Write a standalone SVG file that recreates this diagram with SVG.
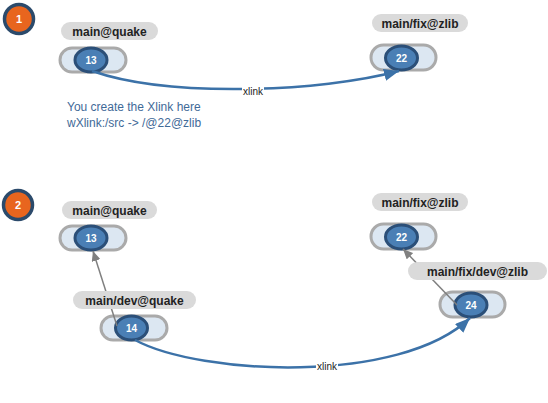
<svg xmlns="http://www.w3.org/2000/svg" width="548" height="403" viewBox="0 0 548 403">
<style>
.badge{fill:#e8651e;stroke:#2b4a6b;stroke-width:3.5}
.btext{font-family:"Liberation Sans",Arial,sans-serif;font-size:11px;font-weight:bold;fill:#fff;text-anchor:middle}
.lbl{fill:#dadada}
.ltext{font-family:"Liberation Sans",Arial,sans-serif;font-size:12px;font-weight:bold;fill:#222;text-anchor:middle}
.pill{fill:#dce7f2;stroke:#aaaaaa;stroke-width:3}
.rev{fill:#4a7fb5;stroke:#2b4f78;stroke-width:3}
.ntext{font-family:"Liberation Sans",Arial,sans-serif;font-size:10px;font-weight:bold;fill:#fff;text-anchor:middle}
.xl{fill:none;stroke:#3c72a8;stroke-width:2.5}
.par{fill:none;stroke:#808080;stroke-width:1.5}
.xt{font-family:"Liberation Sans",Arial,sans-serif;font-size:10px;fill:#222;text-anchor:middle}
.note{font-family:"Liberation Sans",Arial,sans-serif;font-size:12px;fill:#3f6a98}
</style>
<defs>
<marker id="ab" markerUnits="userSpaceOnUse" markerWidth="16" markerHeight="12" refX="15" refY="6" orient="auto">
<path d="M0,0 L15,6 L0,12 Z" fill="#3c72a8"/>
</marker>
<marker id="ag" markerUnits="userSpaceOnUse" markerWidth="11" markerHeight="9" refX="10" refY="4.5" orient="auto">
<path d="M0,0 L10,4.5 L0,9 Z" fill="#808080"/>
</marker>
</defs>
<g id="badge1"><circle class="badge" cx="19" cy="19" r="14.5"/><text class="btext" x="19" y="23">1</text></g>
<g id="badge2"><circle class="badge" cx="18" cy="205" r="14.5"/><text class="btext" x="18" y="209">2</text></g>

<g id="node-13a"><rect class="pill" x="60" y="48" width="66" height="24" rx="12"/><ellipse class="rev" cx="91" cy="60" rx="16" ry="12"/><text class="ntext" x="91" y="64">13</text></g>
<g id="node-22a"><rect class="pill" x="371" y="45" width="65" height="25" rx="12.5"/><ellipse class="rev" cx="401.5" cy="58" rx="16" ry="12"/><text class="ntext" x="401.5" y="62">22</text></g>
<g id="node-13b"><rect class="pill" x="60" y="226" width="66" height="24" rx="12"/><ellipse class="rev" cx="91" cy="238" rx="16" ry="12"/><text class="ntext" x="91" y="242">13</text></g>
<g id="node-14"><rect class="pill" x="101" y="316" width="66" height="24" rx="12"/><ellipse class="rev" cx="131.5" cy="328" rx="16" ry="12"/><text class="ntext" x="131.5" y="332">14</text></g>
<g id="node-22b"><rect class="pill" x="371" y="224" width="65" height="25" rx="12.5"/><ellipse class="rev" cx="401.5" cy="237" rx="16" ry="12"/><text class="ntext" x="401.5" y="241">22</text></g>
<g id="node-24"><rect class="pill" x="440" y="292" width="65" height="25" rx="12.5"/><ellipse class="rev" cx="471" cy="305" rx="16" ry="12"/><text class="ntext" x="471" y="309">24</text></g>

<g id="connectors">
<path class="xl" d="M92,71 C170,98 320,92 399,71" marker-end="url(#ab)"/>
<path class="xl" d="M135,340 C200,375 400,385 470,318" marker-end="url(#ab)"/>
<path class="par" d="M117,326 L93,251" marker-end="url(#ag)"/>
<path class="par" d="M457,305 L403,249" marker-end="url(#ag)"/>
<rect x="242" y="86" width="22" height="11" fill="#fff"/>
<text class="xt" x="253" y="95">xlink</text>
<rect x="316" y="361" width="22" height="11" fill="#fff"/>
<text class="xt" x="327" y="370">xlink</text>
</g>

<g id="label-quake-1"><rect class="lbl" x="61" y="22" width="97" height="18" rx="9"/><text class="ltext" x="109.5" y="35.5">main@quake</text></g>
<g id="label-zlib-1"><rect class="lbl" x="372" y="14" width="96" height="18" rx="9"/><text class="ltext" x="420" y="27.5">main/fix@zlib</text></g>
<g id="label-quake-2"><rect class="lbl" x="62" y="201" width="95" height="18" rx="9"/><text class="ltext" x="109.5" y="214.5">main@quake</text></g>
<g id="label-dev-quake"><rect class="lbl" x="73" y="291" width="123" height="18" rx="9"/><text class="ltext" x="134.5" y="304.5">main/dev@quake</text></g>
<g id="label-zlib-2"><rect class="lbl" x="372" y="193" width="96" height="18" rx="9"/><text class="ltext" x="420" y="206.5">main/fix@zlib</text></g>
<g id="label-dev-zlib"><rect class="lbl" x="408" y="262" width="139" height="18" rx="9"/><text class="ltext" x="477.5" y="275.5">main/fix/dev@zlib</text></g>

<text class="note" x="67" y="111">You create the Xlink here</text>
<text class="note" x="67" y="127">wXlink:/src -&gt; /@22@zlib</text>
</svg>
